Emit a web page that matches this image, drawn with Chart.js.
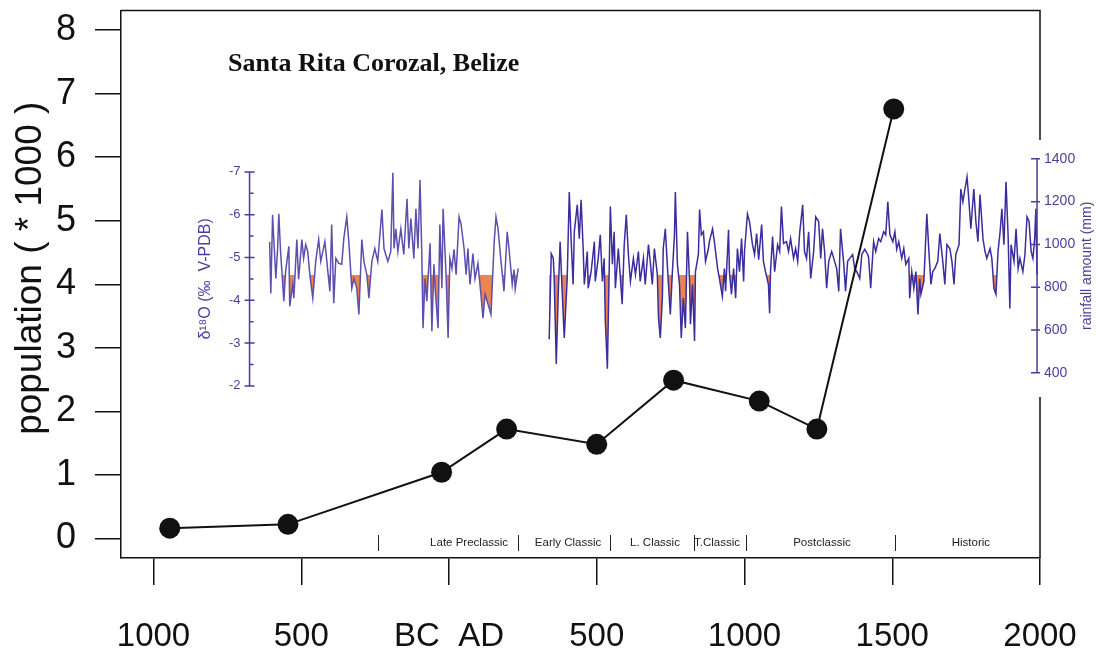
<!DOCTYPE html>
<html>
<head>
<meta charset="utf-8">
<title>Santa Rita Corozal, Belize</title>
<script src="https://cdn.jsdelivr.net/npm/chart.js@4.4.1/dist/chart.umd.min.js"></script>
<style>
  html, body { margin: 0; padding: 0; background: #fff; }
  #wrap { width: 1096px; height: 660px; }
</style>
</head>
<body>
<div id="wrap"><canvas id="chart"></canvas></div>
<script>
// population of Santa Rita Corozal (x1000), negative years = BC
const popYears = [-945, -545, -25, 195, 500, 760, 1050, 1245, 1505];
const popValues = [0.16, 0.22, 1.04, 1.72, 1.48, 2.49, 2.16, 1.72, 6.76];

// axis ticks
const xTickValues = [-1000, -500, 0, 500, 1000, 1500, 2000];
const xTickLabels = ['1000', '500', 'BC  AD', '500', '1000', '1500', '2000'];
const yTickValues = [0, 1, 2, 3, 4, 5, 6, 7, 8];

// cultural periods along the bottom
const periodBounds = [-240, 235, 545, 830, 1005, 1510];
const periodNames = ['Late Preclassic', 'Early Classic', 'L. Classic', 'T.Classic', 'Postclassic', 'Historic'];
const periodCenters = [68, 403, 697, 907, 1262, 1766];

// speleothem d18O record (inset); null = hiatus
const isoYears = [
  -607, -603, -597, -593, -586, -580, -576, -570, -559, -553,
  -542, -539, -529, -525, -515, -509, -498, -492, -485, -478,
  -471, -461, -451, -441, -434, -420, -410, -403, -397, -390,
  -383, -373, -363, -356, -346, -339, -329, -322, -312, -305,
  -295, -288, -278, -271, -261, -251, -241, -227, -220, -207,
  -197, -190,
  -186, -180, -173, -163, -153, -142, -136, -129, -119, -112,
  -105, -98, -92, -88, -81, -75, -64, -58, -51, -47,
  -37, -31, -24, -20, -10, -3, 3, 10, 17, 24,
  34, 41, 51, 58, 64, 71, 81, 88, 98, 108,
  115, 122, 132, 142, 153, 159, 166, 176, 186, 197,
  203, 214, 220, 224, 234,
  285,
  339, 346, 353, 356, 363, 370, 376, 383, 390, 400,
  407, 414, 420, 424, 434, 441, 447, 454, 458, 468,
  471, 481, 492, 495, 505, 512, 519, 525, 529, 536,
  542, 546, 553, 559, 563, 573, 580, 586, 593, 600,
  607, 614, 624, 631, 641, 647, 658, 664, 675, 681,
  688, 695, 705, 709, 715, 722, 725, 732, 742, 749,
  756, 763, 766, 773, 780, 786, 793, 800, 807, 814,
  817, 824, 831, 834, 844, 848,
  854, 861, 868, 878, 881, 892, 898, 909, 915, 925,
  932, 936, 946, 949, 956, 963, 970, 976, 983, 990,
  997, 1000, 1010, 1017, 1027, 1034, 1041, 1048, 1058, 1064,
  1071, 1081, 1085, 1088, 1095, 1102, 1112, 1119, 1125, 1132,
  1142, 1149, 1156, 1166, 1173, 1180, 1187, 1197, 1203, 1210,
  1217, 1224, 1234, 1241, 1251, 1258, 1264, 1271, 1278, 1285,
  1295, 1302, 1312, 1319, 1325, 1336, 1342, 1349, 1356, 1366,
  1373, 1380, 1390, 1397, 1407, 1417, 1420,
  1427, 1434, 1437, 1444, 1454, 1461, 1471, 1478, 1485, 1492,
  1502, 1509, 1515, 1522, 1532, 1539, 1546, 1556, 1559, 1566,
  1573, 1580, 1587, 1593, 1597, 1607, 1610, 1617, 1624, 1631,
  1637, 1644, 1654, 1661, 1671, 1678, 1685, 1695, 1702, 1709,
  1715, 1726, 1732, 1739, 1746, 1753, 1759, 1766, 1776, 1783,
  1790, 1797, 1807, 1814, 1820, 1831, 1837, 1844, 1851, 1858,
  1865, 1871, 1878, 1885, 1892, 1898, 1902, 1912, 1919, 1926,
  1932, 1942, 1949, 1956, 1963, 1970, 1976, 1982, 1986, 1990
];
const isoValues = [
  -5.37, -4.16, -6.00, -5.44, -4.51, -5.21, -6.02, -5.14, -3.98, -4.67,
  -5.26, -3.86, -4.37, -4.05, -5.42, -4.49, -5.42, -4.98, -5.30, -5.14,
  -4.60, -4.05, -4.91, -5.42, -4.91, -5.37, -4.67, -4.21, -5.77, -3.93,
  -4.98, -4.86, -4.84, -5.44, -5.95, -5.37, -4.28, -4.51, -4.28, -3.67,
  -5.42, -4.91, -4.60, -4.05, -4.91, -5.21, -4.91, -6.12, -5.21, -4.91,
  -5.14, -6.98,
  -5.21, -5.67, -5.14, -5.67, -5.07, -6.37, -5.21, -5.91, -4.98, -6.14,
  -5.21, -6.81, -5.07, -3.35, -4.51, -3.98, -5.33, -3.28, -4.84, -4.28,
  -3.35, -5.77, -4.28, -6.14, -4.60, -3.12, -4.98, -4.74, -5.19, -4.60,
  -5.95, -5.77, -5.21, -4.60, -5.21, -4.37, -5.09, -4.51, -4.86, -4.14,
  -3.58, -4.14, -3.91, -3.67, -5.37, -5.95, -5.67, -4.91, -4.21, -5.60,
  -5.21, -4.37, -4.72, -4.26, -4.74,
  null,
  -3.09, -5.09, -4.98, -4.51, -2.51, -4.21, -5.37, -4.21, -3.12, -4.51,
  -6.53, -5.30, -4.37, -5.60, -6.23, -5.44, -6.35, -5.21, -4.37, -5.14,
  -4.28, -4.67, -5.37, -4.44, -4.98, -5.53, -4.44, -4.98, -3.51, -2.40,
  -4.67, -6.19, -4.84, -5.60, -4.28, -5.21, -4.51, -3.91, -5.30, -6.00,
  -5.07, -4.44, -4.98, -4.60, -5.14, -4.44, -4.98, -4.37, -5.30, -4.91,
  -4.37, -5.21, -4.60, -3.58, -3.12, -4.05, -5.21, -5.67, -4.44, -3.67,
  -4.67, -5.53, -6.53, -4.84, -4.37, -3.12, -4.05, -3.35, -5.60, -4.44,
  -3.44, -4.37, -3.05, -4.67, -5.07, -6.12,
  -5.53, -5.60, -4.91, -5.21, -5.37, -5.67, -5.37, -4.74, -4.51, -4.09,
  -4.74, -4.21, -5.65, -4.67, -4.14, -4.74, -4.05, -5.21, -4.67, -5.44,
  -4.44, -5.14, -6.02, -5.84, -5.30, -5.07, -5.56, -4.95, -5.77, -4.91,
  -4.67, -4.37, -3.70, -4.67, -5.49, -4.67, -5.30, -5.14, -6.19, -5.33,
  -5.37, -5.14, -5.44, -4.98, -5.21, -4.91, -5.60, -6.23, -5.14, -4.98,
  -5.60, -4.51, -5.14, -5.95, -5.84, -4.98, -5.67, -5.14, -4.28, -4.91,
  -5.14, -4.98, -4.74, -4.21, -5.67, -4.84, -4.21, -4.91, -4.98, -5.07,
  -4.74, -4.67, -4.51, -5.07, -5.19, -5.07, -5.00,
  -4.28, -5.07, -5.37, -5.14, -5.44, -5.37, -5.60, -5.53, -6.30, -5.53,
  -5.37, -5.60, -5.19, -5.37, -4.98, -5.21, -4.84, -4.98, -4.05, -4.67,
  -4.28, -4.67, -3.67, -4.51, -4.14, -4.44, -4.91, -6.02, -5.14, -4.37,
  -4.67, -4.74, -4.91, -5.56, -4.91, -4.37, -5.30, -5.21, -4.91, -4.37,
  -5.07, -5.30, -6.60, -6.30, -6.60, -6.88, -6.37, -5.67, -6.60, -5.84,
  -5.37, -6.47, -5.44, -5.14, -4.98, -5.21, -4.98, -4.28, -4.14, -5.14,
  -5.60, -6.14, -5.30, -6.77, -5.53, -3.81, -5.30, -4.91, -5.67, -4.74,
  -4.98, -4.67, -5.07, -5.95, -5.84, -5.14, -4.98, -5.44, -6.14, -4.60
];
const isoThreshold = -4.6;
const isoTicks = [-7, -6, -5, -4, -3, -2];
const rainTicks = [400, 600, 800, 1000, 1200, 1400];
const isoAxisYear = -675;
const rainAxisYear = 1990;

const insetColor = '#4a3d9c';
const dryColor = '#ec8450';

function hasFont(name) {
  const c = document.createElement('canvas').getContext('2d');
  c.font = '40px monospace';
  const w0 = c.measureText('1000 BC AD').width;
  c.font = '40px "' + name + '", monospace';
  return c.measureText('1000 BC AD').width !== w0;
}
const narrow = hasFont('Liberation Sans Narrow');
const xFont = narrow ? { family: '"Liberation Sans Narrow"', size: 40 } : { family: '"Liberation Sans"', size: 33 };
const smallFamily = narrow ? '"Liberation Sans Narrow"' : '"Liberation Sans"';

// dry spells: area between the d18O line and the threshold, below it on the page
const dryFillPlugin = {
  id: 'dryFill',
  beforeDatasetsDraw(chart) {
    const { ctx, chartArea: a, scales: { yd } } = chart;
    const pts = chart.getDatasetMeta(1).data;
    const ty = Math.round(yd.getPixelForValue(isoThreshold));
    ctx.save();
    ctx.beginPath();
    ctx.rect(a.left, ty, a.right - a.left, a.bottom - ty);
    ctx.clip();
    ctx.fillStyle = dryColor;
    let run = [];
    const flush = () => {
      if (run.length > 1) {
        ctx.beginPath();
        ctx.moveTo(run[0].x, ty);
        run.forEach(p => ctx.lineTo(p.x, p.y));
        ctx.lineTo(run[run.length - 1].x, ty);
        ctx.closePath();
        ctx.fill();
      }
      run = [];
    };
    pts.forEach((p, i) => {
      if (isoValues[i] === null) flush();
      else run.push(p);
    });
    flush();
    ctx.restore();
  }
};

// inset axes, periods, title and frame
const insetPlugin = {
  id: 'inset',
  afterDraw(chart) {
    const { ctx, chartArea: a, scales: { x, yd, yr } } = chart;
    ctx.save();

    // frame: top and right (right side hidden behind the inset)
    ctx.strokeStyle = '#111';
    ctx.lineWidth = 1.5;
    ctx.beginPath();
    ctx.moveTo(a.left, a.top);
    ctx.lineTo(a.right, a.top);
    ctx.lineTo(a.right, yd.getPixelForValue(-7) - 32);
    ctx.moveTo(a.right, yd.getPixelForValue(-2) + 11);
    ctx.lineTo(a.right, a.bottom);
    ctx.stroke();

    // population axis title
    ctx.save();
    ctx.fillStyle = '#111';
    ctx.font = '37px "Liberation Sans"';
    ctx.textAlign = 'center';
    ctx.textBaseline = 'middle';
    ctx.translate(31, (a.top + a.bottom) / 2 - 16);
    ctx.rotate(-Math.PI / 2);
    ctx.fillText('population ( * 1000 )', 0, 0);
    ctx.restore();

    // d18O axis
    const lx = x.getPixelForValue(isoAxisYear);
    ctx.strokeStyle = insetColor;
    ctx.fillStyle = insetColor;
    ctx.lineWidth = 1.5;
    ctx.beginPath();
    ctx.moveTo(lx, yd.getPixelForValue(-7));
    ctx.lineTo(lx, yd.getPixelForValue(-2));
    for (let v = -7; v <= -2; v += 0.5) {
      const py = yd.getPixelForValue(v);
      const major = Number.isInteger(v);
      ctx.moveTo(major ? lx - 5 : lx, py);
      ctx.lineTo(lx + (major ? 5 : 4), py);
    }
    ctx.stroke();
    ctx.font = '13px "Liberation Sans"';
    ctx.textAlign = 'right';
    ctx.textBaseline = 'middle';
    isoTicks.forEach(v => ctx.fillText(String(v), lx - 9, yd.getPixelForValue(v)));
    ctx.save();
    ctx.translate(lx - 44, (yd.getPixelForValue(-7) + yd.getPixelForValue(-2)) / 2);
    ctx.rotate(-Math.PI / 2);
    ctx.textAlign = 'center';
    ctx.font = '16px "Liberation Sans"';
    ctx.fillText('\u03B4\u00B9\u2078O (\u2030  V-PDB)', 0, 0);
    ctx.restore();

    // rainfall axis
    const rx = x.getPixelForValue(rainAxisYear);
    ctx.beginPath();
    ctx.moveTo(rx, yr.getPixelForValue(1400));
    ctx.lineTo(rx, yr.getPixelForValue(400));
    rainTicks.forEach(v => {
      const py = yr.getPixelForValue(v);
      ctx.moveTo(rx - 6, py);
      ctx.lineTo(rx + 3, py);
    });
    ctx.stroke();
    ctx.font = '14px "Liberation Sans"';
    ctx.textAlign = 'left';
    rainTicks.forEach(v => ctx.fillText(String(v), rx + 7, yr.getPixelForValue(v)));
    ctx.save();
    ctx.translate(rx + 50, (yr.getPixelForValue(1400) + yr.getPixelForValue(400)) / 2);
    ctx.rotate(-Math.PI / 2);
    ctx.textAlign = 'center';
    ctx.fillText('rainfall amount (mm)', 0, 0);
    ctx.restore();

    // periods
    ctx.strokeStyle = '#222';
    ctx.fillStyle = '#222';
    ctx.lineWidth = 1;
    ctx.beginPath();
    periodBounds.forEach(b => {
      const px = Math.round(x.getPixelForValue(b)) + 0.5;
      ctx.moveTo(px, a.bottom - 23);
      ctx.lineTo(px, a.bottom - 7);
    });
    ctx.stroke();
    ctx.font = (narrow ? '13px ' : '11.5px ') + smallFamily;
    ctx.textAlign = 'center';
    periodNames.forEach((n, i) => ctx.fillText(n, x.getPixelForValue(periodCenters[i]), a.bottom - 15));

    // site name
    ctx.fillStyle = '#111';
    ctx.font = 'bold 26px "Liberation Serif"';
    ctx.textAlign = 'left';
    ctx.fillText('Santa Rita Corozal, Belize', a.left + 107, a.top + 54);

    ctx.restore();
  }
};

new Chart(document.getElementById('chart'), {
  type: 'line',
  data: {
    datasets: [
      {
        label: 'population',
        data: popYears.map((yr, i) => ({ x: yr, y: popValues[i] })),
        yAxisID: 'y',
        borderColor: '#111',
        borderWidth: 2,
        pointRadius: 10.5,
        pointBorderWidth: 0,
        pointBackgroundColor: '#111',
        order: 0
      },
      {
        label: 'd18O',
        data: isoYears.map((yr, i) => ({ x: yr, y: isoValues[i] })),
        yAxisID: 'yd',
        borderColor: '#3a2d9e',
        borderWidth: 1.5,
        pointRadius: 0,
        spanGaps: false,
        fill: false,
        segment: {
          borderColor: c => c.p0.parsed.x < 300 ? '#5c4fae' : '#3a2d9e'
        },
        order: 1
      }
    ]
  },
  options: {
    responsive: true,
    maintainAspectRatio: false,
    animation: false,
    events: [],
    layout: { padding: { left: 0, right: 56, top: 8, bottom: 0 } },
    plugins: { legend: { display: false }, tooltip: { enabled: false } },
    scales: {
      x: {
        type: 'linear',
        min: -1110,
        max: 2000,
        afterBuildTicks: s => { s.ticks = xTickValues.map(v => ({ value: v })); },
        afterFit: s => { s.height = 102; s.paddingLeft = 0; s.paddingRight = 0; },
        grid: { drawOnChartArea: false, drawTicks: true, tickLength: 27, color: '#111', lineWidth: 1.5 },
        border: { color: '#111', width: 1.5 },
        ticks: {
          color: '#111',
          padding: narrow ? 28 : 32,
          font: xFont,
          maxRotation: 0,
          autoSkip: false,
          callback: v => xTickLabels[xTickValues.indexOf(v)]
        }
      },
      y: {
        type: 'linear',
        position: 'left',
        min: -0.31,
        max: 8.31,
        afterBuildTicks: s => { s.ticks = yTickValues.map(v => ({ value: v })); },
        afterFit: s => { s.width = 121; s.paddingTop = 0; s.paddingBottom = 0; },
        grid: { drawOnChartArea: false, drawTicks: true, tickLength: 26, color: '#111', lineWidth: 1.5 },
        border: { color: '#111', width: 1.5 },
        ticks: { color: '#111', padding: 19, font: { family: '"Liberation Sans"', size: 36 } }
      },
      yd: { type: 'linear', display: false, reverse: true, min: -10.77, max: 2.02 },
      yr: { type: 'linear', display: false, min: -465, max: 2093 }
    }
  },
  plugins: [dryFillPlugin, insetPlugin]
});
</script>
</body>
</html>
